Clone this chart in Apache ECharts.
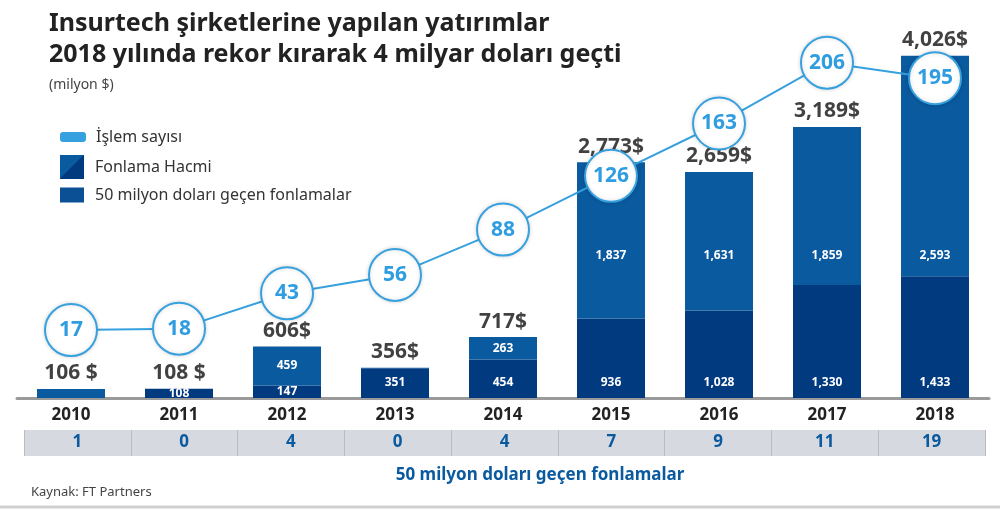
<!DOCTYPE html>
<html>
<head>
<meta charset="utf-8">
<script src="https://cdn.jsdelivr.net/npm/echarts@6/dist/echarts.min.js"></script>
<style>
  html, body { margin: 0; padding: 0; background: #fff; }
  #chart { width: 1000px; height: 510px; }
</style>
</head>
<body>
<div id="chart"></div>
<script>
// yıllar ve değerler
var years = ['2010', '2011', '2012', '2013', '2014', '2015', '2016', '2017', '2018'];
var altFonlama = [0, 108, 147, 351, 454, 936, 1028, 1330, 1433];
var ustFonlama = [106, 0, 459, 5, 263, 1837, 1631, 1859, 2593];
var toplam = [106, 108, 606, 356, 717, 2773, 2659, 3189, 4026];
var toplamEtiket = ['106 $', '108 $', '606$', '356$', '717$', '2,773$', '2,659$', '3,189$', '4,026$'];
var islemSayisi = [17, 18, 43, 56, 88, 126, 163, 206, 195];
var buyukFon = [1, 0, 4, 0, 4, 7, 9, 11, 19];

var koyu = '#013a7f';
var orta = '#0a5a9f';
var acik = '#37a0de';
var font = 'Noto Sans';

var myChart = echarts.init(document.getElementById('chart'));

function fmt(v) {
	return Number(v).toLocaleString('en-US');
}

var altData = altFonlama.map(function (v) {
	if (v > 0 && v < 200) return { value: v, label: { position: 'inside' } };
	return v;
});

var option = {
	animation: false,
	textStyle: { fontFamily: font },
	title: [{
		text: 'Insurtech şirketlerine yapılan yatırımlar\n2018 yılında rekor kırarak 4 milyar doları geçti',
		left: 44, top: 3,
		textStyle: { fontSize: 25, fontWeight: 'bold', color: '#222', lineHeight: 31, fontFamily: font }
	}, {
		text: '(milyon $)',
		left: 44, top: 73,
		textStyle: { fontSize: 14, fontWeight: 'normal', color: '#444', fontFamily: font }
	}, {
		text: '50 milyon doları geçen fonlamalar',
		left: 535, top: 462, textAlign: 'center',
		textStyle: { fontSize: 17, fontWeight: 'bold', color: orta, fontFamily: font }
	}, {
		text: 'Kaynak: FT Partners',
		left: 26, top: 481,
		textStyle: { fontSize: 13, fontWeight: 'normal', color: '#444', fontFamily: font }
	}],
	legend: [{
		data: [{ name: 'İşlem sayısı', icon: 'roundRect', itemStyle: { color: acik } }],
		left: 55, top: 124, itemWidth: 24, itemHeight: 8,
		selectedMode: false,
		textStyle: { fontSize: 16, color: '#333', padding: [0, 0, 0, 6] }
	}, {
		data: [{
			name: 'Fonlama Hacmi', icon: 'rect',
			itemStyle: {
				color: new echarts.graphic.LinearGradient(0, 0, 1, 1, [
					{ offset: 0, color: orta }, { offset: 0.5, color: orta },
					{ offset: 0.5, color: koyu }, { offset: 1, color: koyu }
				])
			}
		}],
		left: 55, top: 150, itemWidth: 24, itemHeight: 24,
		selectedMode: false,
		textStyle: { fontSize: 16, color: '#333', padding: [0, 0, 0, 6] }
	}, {
		data: [{ name: '50 milyon doları geçen fonlamalar', icon: 'rect', itemStyle: { color: '#0b4f95' } }],
		left: 55, top: 182, itemWidth: 24, itemHeight: 15,
		selectedMode: false,
		textStyle: { fontSize: 16, color: '#333', padding: [0, 0, 0, 6] }
	}],
	grid: [
		{ left: 17, right: 11, top: 40, bottom: 112 },
		{ left: 24, right: 15, top: 430, height: 26 }
	],
	xAxis: [{
		type: 'category',
		data: years,
		gridIndex: 0,
		axisLine: { lineStyle: { color: '#9a9a9a', width: 3 } },
		axisTick: { show: false },
		axisLabel: { fontSize: 17, fontWeight: 'bold', color: '#222', margin: 9 }
	}, {
		type: 'category',
		data: years,
		gridIndex: 1,
		axisLine: { show: false },
		axisTick: { show: false },
		splitArea: { show: true, areaStyle: { color: ['#d6d9df'] } },
		splitLine: { show: true, lineStyle: { color: '#b8bcc4', width: 1 } },
		axisLabel: {
			margin: -22,
			fontSize: 17, fontWeight: 'bold', color: orta,
			formatter: function (v, i) { return buyukFon[i]; }
		}
	}],
	yAxis: [
		{ type: 'value', gridIndex: 0, min: 0, max: 4211, show: false },
		{ type: 'value', gridIndex: 0, min: -31, max: 222, show: false },
		{ type: 'value', gridIndex: 1, min: 0, max: 1, show: false }
	],
	series: [{
		name: 'Fonlama Hacmi',
		type: 'bar',
		stack: 'fon',
		barWidth: 68,
		data: altData,
		itemStyle: { color: koyu },
		label: {
			show: true,
			position: 'insideBottom',
			distance: 9,
			fontSize: 12, fontWeight: 'bold', color: '#fff',
			formatter: function (p) { return p.value > 0 ? fmt(p.value) : ''; }
		}
	}, {
		name: '50 milyon doları geçen fonlamalar',
		type: 'bar',
		stack: 'fon',
		barWidth: 68,
		data: ustFonlama,
		itemStyle: { color: orta },
		label: {
			show: true,
			position: 'inside',
			fontSize: 12, fontWeight: 'bold', color: '#fff',
			formatter: function (p) { return p.value >= 200 ? fmt(p.value) : ''; }
		}
	}, {
		name: 'toplam',
		type: 'scatter',
		data: toplam,
		symbolSize: 0,
		silent: true,
		label: {
			show: true,
			position: 'top',
			distance: 5,
			fontSize: 21, fontWeight: 'bold', color: '#111',
			formatter: function (p) { return toplamEtiket[p.dataIndex]; }
		}
	}, {
		name: 'İşlem sayısı',
		type: 'line',
		yAxisIndex: 1,
		data: islemSayisi,
		z: 5,
		symbol: 'circle',
		symbolSize: 52,
		lineStyle: { color: acik, width: 2 },
		itemStyle: { color: '#fff', borderColor: acik, borderWidth: 2, shadowBlur: 4, shadowColor: 'rgba(0,0,0,0.15)' },
		label: {
			show: true,
			position: 'inside',
			fontSize: 21, fontWeight: 'bold', color: '#2f9de0'
		}
	}],
	graphic: [{
		type: 'line',
		shape: { x1: 0, y1: 507, x2: 1000, y2: 507 },
		style: { stroke: '#d0d0d0', lineWidth: 3 }
	}]
};

myChart.setOption(option);

// büyük çubuklarda üst etiketleri aynı hizaya koy
var etiketY = myChart.convertToPixel({ yAxisIndex: 0 }, 1680);
var ustData = ustFonlama.map(function (v, i) {
	if (v > 1000) {
		var ustY = myChart.convertToPixel({ yAxisIndex: 0 }, altFonlama[i] + v);
		return { value: v, label: { position: ['50%', etiketY - ustY], align: 'center', verticalAlign: 'middle' } };
	}
	return v;
});
myChart.setOption({ series: [{}, { data: ustData }] });
</script>
</body>
</html>
